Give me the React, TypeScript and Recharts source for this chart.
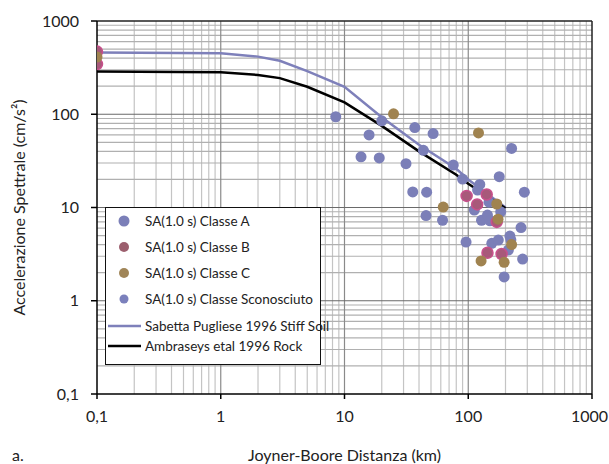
import React from 'react';
import { ComposedChart, Scatter, Line, XAxis, YAxis, ReferenceLine } from 'recharts';

// distanza (km) / SA (cm/s2) per classe di suolo
const classeAX = [8.5, 20, 15.8, 37, 52, 13.6, 19.1, 31.4, 43.4, 75.7, 35.6, 46.1, 45.6, 62, 90, 178, 124, 119, 284, 147, 112, 183, 128, 143, 150, 267, 96, 155, 175, 217, 221, 211, 275, 195, 224];
const classeAY = [94, 85, 60, 72, 62, 35, 34, 29.5, 41, 28.5, 14.7, 14.6, 8.2, 7.3, 20.2, 21.4, 17.7, 15.4, 14.6, 11.4, 9.4, 9.0, 7.3, 8.3, 7.2, 6.1, 4.26, 4.13, 4.48, 4.94, 4.5, 3.5, 2.8, 1.8, 43];
const classeBX = [0.1, 0.1, 97, 141, 118, 170, 143, 186];
const classeBY = [470, 345, 13.3, 13.8, 10.8, 7.0, 3.27, 3.17];
const classeCX = [0.1, 24.9, 62.8, 121, 170, 174, 224, 127, 195];
const classeCY = [410, 101, 10.1, 63, 10.9, 7.5, 4.0, 2.67, 2.58];
const sconosciutoX: number[] = [];
const sconosciutoY: number[] = [];

// curve di attenuazione
const sabettaX = [0.1, 1, 2, 3, 5, 10, 20, 40, 80, 100, 200];
const sabettaY = [458, 452, 415, 375, 290, 197, 93, 47, 26, 20, 10];
const ambraseysX = [0.1, 1, 2, 3, 5, 10, 20, 40, 80, 100, 200];
const ambraseysY = [287, 282, 264, 244, 197, 134, 75, 40, 22.5, 18, 9.8];

const majorTicks = [0.1, 1, 10, 100, 1000];
const minorTicks = [0.1, 1, 10, 100].flatMap(d => [2, 3, 4, 5, 6, 7, 8, 9].map(m => +(d * m).toPrecision(3)));

const zip = (xs: number[], ys: number[]) => xs.map((x, i) => ({ x, y: ys[i] }));
const fmt = (v: number) => String(v).replace('.', ',');
const FONT = 'Lato, sans-serif';

const dot = (fill: string, stroke?: string) => (p: any) => (
  <circle cx={p.cx} cy={p.cy} r={5.5} fill={fill} stroke={stroke || 'none'} strokeWidth={stroke ? 1.5 : 0} />
);

// the last x label sits against the right edge, as in the original
const XTick = (p: any) => {
  const last = p.payload.value === 1000;
  return (
    <text x={last ? p.x + 16 : p.x} y={p.y} dy="0.71em" textAnchor={last ? 'end' : 'middle'}
      fill="#222" fontSize={16} fontFamily={FONT}>{fmt(p.payload.value)}</text>
  );
};

const legendItems = [
  { label: 'SA(1.0 s) Classe A', color: '#7b7fb8', r: 5.5 },
  { label: 'SA(1.0 s) Classe B', color: '#9c5f6e', r: 5 },
  { label: 'SA(1.0 s) Classe C', color: '#a08558', r: 5 },
  { label: 'SA(1.0 s) Classe Sconosciuto', color: '#7b80bc', r: 4.5 },
];
const legendLines = [
  { label: 'Sabetta Pugliese 1996 Stiff Soil', color: '#7e80ba' },
  { label: 'Ambraseys etal 1996 Rock', color: '#000' },
];

export default function App() {
  return (
    <div style={{ position: 'absolute', left: 0, top: 0, width: 609, height: 464, background: '#fff', fontFamily: FONT }}>
      <ComposedChart width={609} height={464} margin={{ top: 21, right: 17, bottom: 0, left: 0 }}>
        <XAxis type="number" dataKey="x" scale="log" domain={[0.1, 1000]} ticks={majorTicks} allowDataOverflow
          height={70} tickSize={5} tickMargin={12} stroke="#000" strokeWidth={1.5} tick={<XTick />}
          label={{ value: 'Joyner-Boore Distanza (km)', position: 'insideBottom', offset: 3, fill: '#222', fontSize: 16, fontFamily: FONT }} />
        <YAxis type="number" dataKey="y" scale="log" domain={[0.1, 1000]} ticks={majorTicks} allowDataOverflow
          tickFormatter={fmt} width={97} tickSize={6} tickMargin={12} stroke="#000" strokeWidth={1.5}
          tick={{ fill: '#222', fontSize: 16, fontFamily: FONT }}
          label={{
            content: (p: any) => {
              const vb = p.viewBox;
              const cx = 18, cy = vb.y + vb.height / 2;
              return (
                <text x={cx} y={cy} transform={`rotate(-90, ${cx}, ${cy})`} textAnchor="middle" dominantBaseline="central"
                  fill="#222" fontSize={16} fontFamily={FONT}>Accelerazione Spettrale (cm/s²)</text>
              );
            },
          }} />
        {minorTicks.map(v => <ReferenceLine key={'vx' + v} x={v} stroke="#c4c4c4" strokeWidth={1.2} />)}
        {minorTicks.map(v => <ReferenceLine key={'hy' + v} y={v} stroke="#b0b0b0" strokeWidth={1.2} />)}
        {majorTicks.slice(1, 4).map(v => <ReferenceLine key={'mx' + v} x={v} stroke="#8a8a8a" strokeWidth={1.2} />)}
        {majorTicks.slice(1, 4).map(v => <ReferenceLine key={'my' + v} y={v} stroke="#6a6a6a" strokeWidth={1.2} />)}
        <ReferenceLine x={1000} stroke="#222" strokeWidth={1.5} />
        <ReferenceLine y={1000} stroke="#222" strokeWidth={1.5} />
        <Line data={zip(sabettaX, sabettaY)} dataKey="y" stroke="#7e80ba" strokeWidth={2.5} dot={false} isAnimationActive={false} />
        <Line data={zip(ambraseysX, ambraseysY)} dataKey="y" stroke="#000" strokeWidth={2.5} dot={false} isAnimationActive={false} />
        <Scatter data={zip(classeAX, classeAY)} shape={dot('#7b7fb8')} isAnimationActive={false} />
        <Scatter data={zip(sconosciutoX, sconosciutoY)} shape={dot('#7b80bc')} isAnimationActive={false} />
        <Scatter data={zip(classeBX, classeBY)} shape={dot('#a8597a', '#c8508c')} isAnimationActive={false} />
        <Scatter data={zip(classeCX, classeCY)} shape={dot('#a08350')} isAnimationActive={false} />
      </ComposedChart>

      <div style={{ position: 'absolute', left: 12, top: 445, fontSize: 16, color: '#222' }}>a.</div>

      <div style={{ position: 'absolute', left: 105, top: 207, width: 216, height: 158, border: '1.5px solid #111', background: '#fff', boxSizing: 'border-box', fontSize: 13.5, color: '#222' }}>
        {legendItems.map((it, i) => (
          <div key={it.label} style={{ position: 'absolute', left: 0, top: 4.5 + i * 26, height: 16, display: 'flex', alignItems: 'center' }}>
            <svg width={36} height={16}><circle cx={18} cy={8} r={it.r} fill={it.color} /></svg>
            <span style={{ marginLeft: 3, whiteSpace: 'nowrap' }}>{it.label}</span>
          </div>
        ))}
        {legendLines.map((it, i) => (
          <div key={it.label} style={{ position: 'absolute', left: 0, top: 109.5 + i * 20.5, height: 16, display: 'flex', alignItems: 'center' }}>
            <svg width={36} height={16}><line x1={2} x2={35} y1={8} y2={8} stroke={it.color} strokeWidth={2.5} /></svg>
            <span style={{ marginLeft: 3, whiteSpace: 'nowrap' }}>{it.label}</span>
          </div>
        ))}
      </div>
    </div>
  );
}
